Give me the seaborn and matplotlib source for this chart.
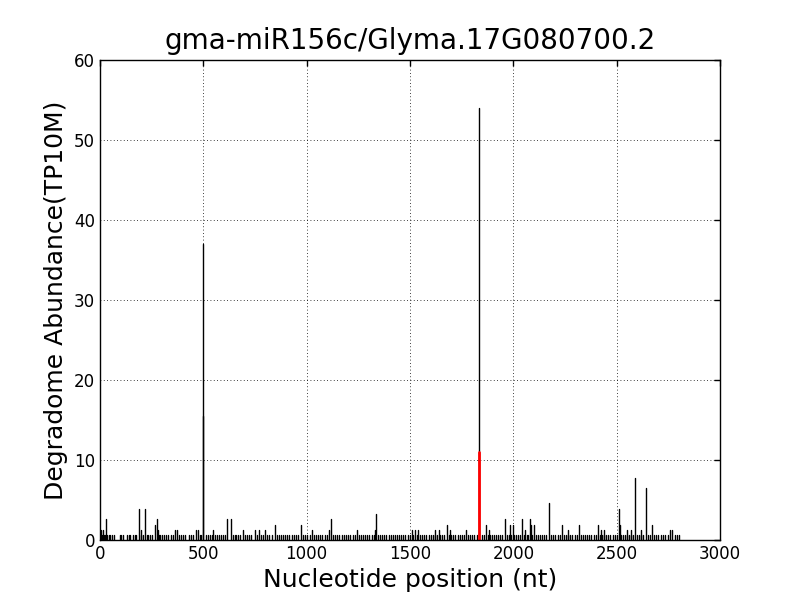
import numpy as np
import pandas as pd
import matplotlib
matplotlib.use("Agg")
import matplotlib.pyplot as plt
import seaborn as sns

title = "gma-miR156c/Glyma.17G080700.2"
xlabel = "Nucleotide position (nt)"
ylabel = "Degradome Abundance(TP10M)"
xticks = [0, 500, 1000, 1500, 2000, 2500, 3000]
yticks = [0, 10, 20, 30, 40, 50, 60]

# single-read baseline positions (abundance ~0.65)
base_value = 0.65
base_pos = [3, 10, 18, 24, 35, 42, 50, 58, 66, 95, 104, 112, 130, 138, 146, 160, 168, 176,
            196, 208, 226, 234, 242, 250, 284, 292, 300, 312, 320, 330, 342, 352, 384, 392,
            400, 410, 430, 440, 452, 482, 490,
            512, 522, 530, 540, 556, 566, 574, 584, 596, 606, 644, 652, 660, 668, 678, 700,
            710, 720, 730, 760, 778, 790, 810, 820, 830, 858, 866, 876, 884, 894, 904, 914,
            930, 940, 950, 960, 982, 990,
            1004, 1014, 1034, 1044, 1054, 1064, 1072, 1088, 1098, 1126, 1136, 1146, 1156,
            1170, 1180, 1190, 1200, 1210, 1222, 1232, 1252, 1262, 1272, 1282, 1292, 1302,
            1314, 1324, 1346, 1356, 1366, 1376, 1386, 1396, 1408, 1418, 1428, 1438, 1448,
            1458, 1468, 1478, 1488, 1500,
            1516, 1532, 1548, 1558, 1568, 1578, 1590, 1600, 1612, 1622, 1632, 1644, 1654,
            1664, 1690, 1700, 1710, 1720, 1730, 1740, 1750, 1760, 1782, 1792, 1802, 1812,
            1822, 1846, 1856, 1876, 1886, 1896, 1906, 1916, 1926, 1936, 1946, 1970, 1980, 1990,
            2004, 2014, 2024, 2034, 2054, 2064, 2072, 2090, 2110, 2120, 2130, 2140, 2150,
            2160, 2184, 2194, 2204, 2214, 2224, 2246, 2256, 2266, 2276, 2286, 2296, 2306,
            2328, 2338, 2348, 2358, 2368, 2378, 2388, 2398, 2420, 2430, 2440, 2450, 2460,
            2470, 2480, 2490, 2500,
            2522, 2532, 2542, 2552, 2562, 2570, 2580, 2598, 2606, 2616, 2626, 2652, 2662,
            2682, 2692, 2702, 2714, 2724, 2736, 2748, 2782, 2792, 2800]

# taller peaks
peak_pos = [5, 15, 30, 189, 200, 218, 266, 276, 282, 363, 373, 465, 472, 500, 500, 547,
            615, 634, 692, 750, 770, 800, 847, 973, 1026, 1108, 1118, 1244, 1330, 1336,
            1510, 1525, 1539, 1620, 1640, 1680, 1695, 1771, 1832, 1868, 1880, 1960, 1985,
            2000, 2043, 2058, 2081, 2086, 2100, 2173, 2236, 2265, 2318, 2410, 2425, 2440,
            2512, 2518, 2550, 2568, 2589, 2620, 2643, 2672, 2760, 2770]
peak_val = [1.3, 1.3, 2.6, 3.9, 1.3, 3.9, 1.9, 2.6, 1.3, 1.3, 1.3, 1.3, 1.3, 37.0, 15.5, 1.3,
            2.6, 2.6, 1.3, 1.3, 1.3, 1.3, 1.9, 1.9, 1.3, 1.3, 2.6, 1.3, 1.3, 3.2,
            1.3, 1.3, 1.3, 1.3, 1.3, 1.9, 1.3, 1.3, 54.0, 1.9, 1.3, 2.6, 1.9,
            1.9, 2.6, 1.3, 2.6, 1.9, 1.9, 4.6, 1.9, 1.3, 1.9, 1.9, 1.3, 1.3,
            3.9, 1.9, 1.3, 1.3, 7.8, 1.3, 6.5, 1.9, 1.3, 1.3]

# target site (cleavage) peak
target_pos = [1832]
target_val = [11.0]

sns.set_style("white")
plt.rcParams["font.family"] = ["DejaVu Sans"]
plt.rcParams["text.color"] = "black"
plt.rcParams["axes.labelcolor"] = "black"

all_pos = base_pos + peak_pos
all_val = [base_value] * len(base_pos) + peak_val
rows = []
for i, (p, v) in enumerate(zip(all_pos, all_val)):
    rows.append({"id": i, "x": p, "y": 0.0})
    rows.append({"id": i, "x": p, "y": v})
df = pd.DataFrame(rows)

trows = []
for i, (p, v) in enumerate(zip(target_pos, target_val)):
    trows.append({"id": i, "x": p, "y": 0.0})
    trows.append({"id": i, "x": p, "y": v})
tdf = pd.DataFrame(trows)

fig = plt.figure(figsize=(8, 6), dpi=100)
ax = fig.add_axes([0.125, 0.1, 0.775, 0.8])
sns.lineplot(data=df, x="x", y="y", units="id", estimator=None, sort=False,
             color="black", linewidth=1.0, ax=ax, legend=False)
sns.lineplot(data=tdf, x="x", y="y", units="id", estimator=None, sort=False,
             color="red", linewidth=2.0, ax=ax, legend=False)

ax.set_xlim(0, 3000)
ax.set_ylim(0, 60)
ax.set_xticks(xticks)
ax.set_yticks(yticks)
ax.grid(True, color="black", linestyle=(0, (1, 3)), linewidth=0.6)
for s in ax.spines.values():
    s.set_color("black")
    s.set_linewidth(1.0)
ax.tick_params(direction="in", top=True, right=True, length=4, width=1,
               labelsize=12, colors="black")
ax.set_title(title, fontsize=20, color="black", pad=8)
ax.set_xlabel(xlabel, fontsize=18, color="black")
ax.set_ylabel(ylabel, fontsize=18, color="black")
fig.savefig("out.png", dpi=100, facecolor="white")
